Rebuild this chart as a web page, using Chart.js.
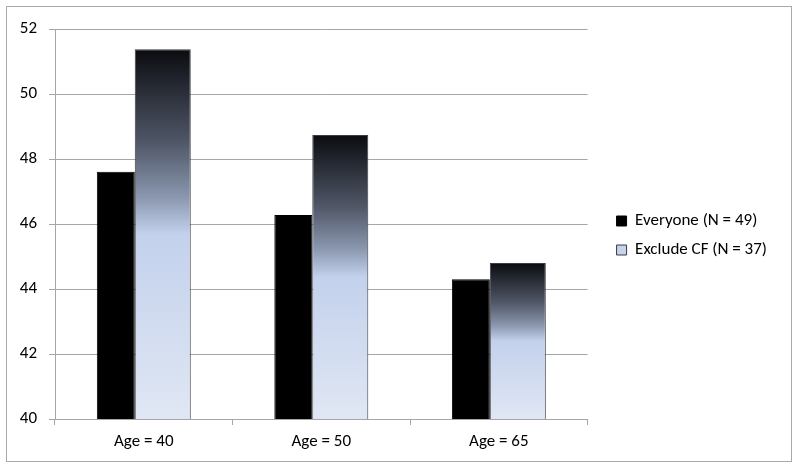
<!DOCTYPE html>
<html>
<head>
<meta charset="utf-8">
<script src="https://cdn.jsdelivr.net/npm/chart.js@4"></script>
<style>
    body { margin: 0; background: #ffffff; }
    #marco {
        position: absolute;
        left: 6px;
        top: 6px;
        width: 786px;
        height: 456px;
        border: 1px solid #a9a9a9;
        box-sizing: border-box;
    }
</style>
</head>
<body>
<div id="marco"><canvas id="grafico" width="784" height="454"></canvas></div>
<script>
const categorias = ['Age = 40', 'Age = 50', 'Age = 65']
const todos = [47.61, 46.28, 44.30]
const sinCF = [51.38, 48.74, 44.80]
const etiquetas = ['Everyone (N = 49)', 'Exclude CF (N = 37)']
const ejeMin = 40
const ejeMax = 52
const ejePaso = 2

const fuente = "Calibri, Carlito, Lato, sans-serif"
const gris = '#a6a6a6'

//degradado de arriba (negro) a abajo (celeste)
function degradado(ctx) {
    if (ctx.type !== 'data') return '#8c99b1'
    const chart = ctx.chart
    if (!chart.chartArea) return '#8c99b1'
    const y = chart.scales.y
    const arriba = y.getPixelForValue(ctx.raw)
    const abajo = y.getPixelForValue(ejeMin)
    const g = chart.ctx.createLinearGradient(0, arriba, 0, abajo)
    g.addColorStop(0, '#0b0c10')
    g.addColorStop(0.25, '#4f5666')
    g.addColorStop(0.4, '#8a97af')
    g.addColorStop(0.5, '#c3d1ec')
    g.addColorStop(1, '#e0e7f4')
    return g
}

//mover la leyenda como en el original
const moverLeyenda = {
    id: 'moverLeyenda',
    afterLayout(chart) {
        const ley = chart.legend
        ley.left += 17
        ley.right += 17
        ley.top -= 9
        ley.bottom -= 9
    }
}

new Chart(document.getElementById('grafico'), {
    type: 'bar',
    data: {
        labels: categorias,
        datasets: [{
            label: etiquetas[0],
            data: todos,
            backgroundColor: '#000000',
            borderColor: '#000000',
            borderWidth: 1,
            categoryPercentage: 0.63,
            barPercentage: 0.679
        }, {
            label: etiquetas[1],
            data: sinCF,
            backgroundColor: degradado,
            borderColor: '#3a3c42',
            borderWidth: 1,
            categoryPercentage: 0.428,
            barPercentage: 1.474
        }]
    },
    options: {
        responsive: false,
        animation: false,
        layout: {
            padding: { top: 21, right: 31, bottom: 0, left: 0 }
        },
        plugins: {
            legend: {
                position: 'right',
                labels: {
                    boxWidth: 10,
                    boxHeight: 10,
                    padding: 12,
                    color: '#000000',
                    font: { family: fuente, size: 17 }
                }
            },
            tooltip: { enabled: false }
        },
        scales: {
            x: {
                grid: {
                    drawOnChartArea: false,
                    tickLength: 6,
                    color: gris
                },
                border: { color: gris },
                ticks: {
                    padding: 7,
                    color: '#000000',
                    font: { family: fuente, size: 17 }
                },
                afterFit(eje) { eje.height = 42 }
            },
            y: {
                min: ejeMin,
                max: ejeMax,
                grid: {
                    tickLength: 6,
                    color: gris
                },
                border: { color: gris },
                ticks: {
                    stepSize: ejePaso,
                    padding: 12,
                    color: '#000000',
                    font: { family: fuente, size: 17 }
                },
                afterFit(eje) { eje.width = 48 }
            }
        }
    },
    plugins: [moverLeyenda]
})
</script>
</body>
</html>
